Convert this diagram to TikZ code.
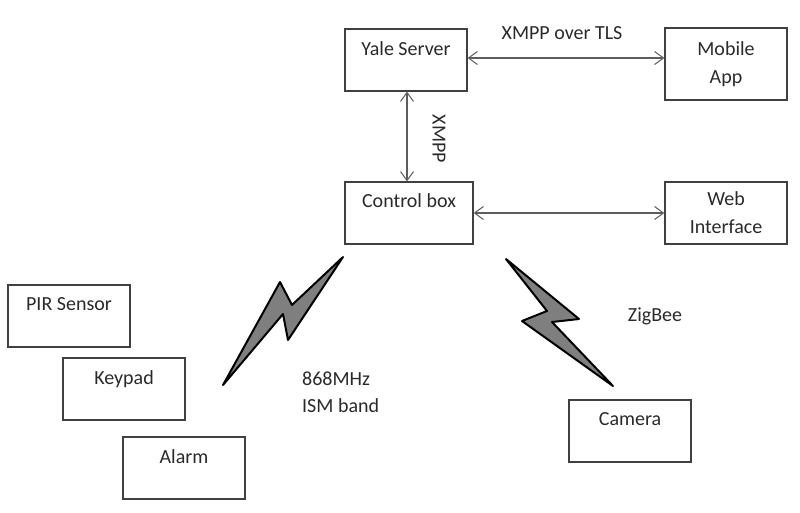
\documentclass[tikz,border=0pt]{standalone}
\usepackage{fontspec}
\setmainfont{Carlito}
\usetikzlibrary{arrows.meta}
\definecolor{ink}{HTML}{404040}
\definecolor{txt}{HTML}{2A2A2A}
\definecolor{boltfill}{HTML}{7F7F7F}
\tikzset{
  boxnode/.style={draw=ink,line width=1.2pt,fill=white,inner sep=0pt,align=center,text=txt,font=\fontsize{20}{22}\selectfont},
  link/.style={draw=ink!85,line width=1.3pt,{Straight Barb[length=9pt,width=13pt,line width=1pt]}-{Straight Barb[length=9pt,width=13pt,line width=1pt]}},
  caption/.style={text=txt,inner sep=0pt,font=\fontsize{20}{27}\selectfont},
  bolt/.style={draw=black,line width=2pt,fill=boltfill,line join=round}
}
\begin{document}
\begin{tikzpicture}[x=1pt,y=-1pt]
\useasboundingbox (0,0) rectangle (800,512);
\node[boxnode,minimum width=122pt,minimum height=62pt] (yale) at (406,60) {Yale Server\\~};
\node[boxnode,minimum width=122pt,minimum height=72pt] (mobile) at (726,64) {Mobile\\[6pt]App};
\node[boxnode,minimum width=128pt,minimum height=62pt] (control) at (409,213) {Control box\\[2pt]~};
\node[boxnode,minimum width=122pt,minimum height=62pt] (web) at (726,213) {Web\\[6pt]Interface};
\node[boxnode,minimum width=122pt,minimum height=62pt] (pir) at (69,316) {PIR Sensor\\[2pt]~};
\node[boxnode,minimum width=122pt,minimum height=62pt] (keypad) at (124,389) {Keypad\\~};
\node[boxnode,minimum width=122pt,minimum height=62pt] (alarm) at (184,468) {Alarm\\~};
\node[boxnode,minimum width=122pt,minimum height=62pt] (camera) at (630,431) {Camera\\[2pt]~};
\coordinate (level) at (0,58);
\coordinate (plumb) at (407,0);
\draw[link] (yale.east |- level) -- (mobile.west |- level);
\draw[link] (yale.south -| plumb) -- (control.north -| plumb);
\draw[link] (control.east) -- (web.west);
\node[caption] (tls) at (562,33) {XMPP over TLS};
\node[caption,rotate=-90] (xmpp) at (439,139) {XMPP};
\node[caption] (zigbee) at (655,316) {ZigBee};
\node[caption,align=left,anchor=north west] (ism) at (302,372) {868MHz\\ISM band};
\draw[bolt] (343,257) -- (292,305) -- (280,282) -- (223,385) -- (283,314) -- (288,340) -- cycle;
\draw[bolt] (506,259) -- (579,319) -- (552,322) -- (613,386) -- (522,321) -- (547,311) -- cycle;
\end{tikzpicture}
\end{document}
